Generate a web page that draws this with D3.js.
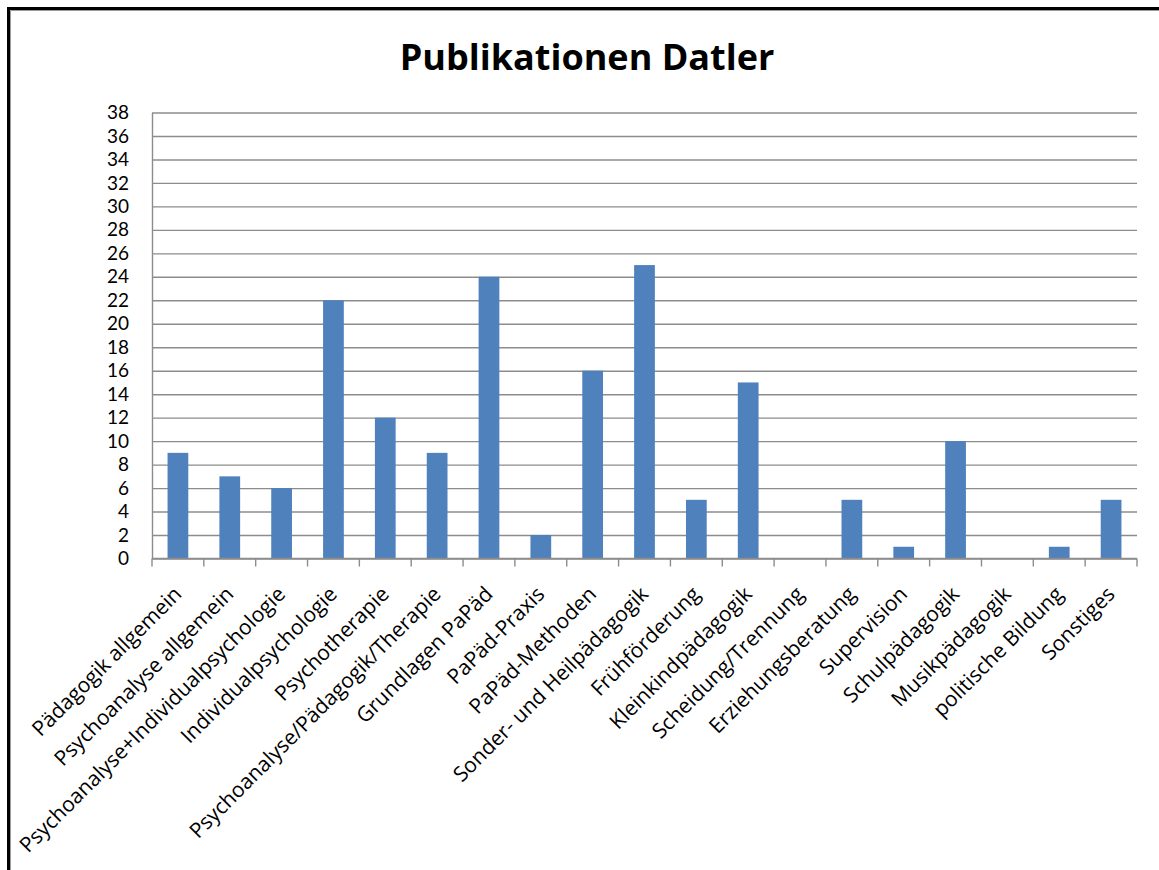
<!DOCTYPE html>
<meta charset="utf-8">
<style>
body { margin: 0; background: #fff; }
text { font-family: "Open Sans", sans-serif; fill: #000; }
</style>
<body>
<script src="https://d3js.org/d3.v7.min.js"></script>
<script>

// data
var categories = ["Pädagogik allgemein", "Psychoanalyse allgemein", "Psychoanalyse+Individualpsychologie",
  "Individualpsychologie", "Psychotherapie", "Psychoanalyse/Pädagogik/Therapie", "Grundlagen PaPäd",
  "PaPäd-Praxis", "PaPäd-Methoden", "Sonder- und Heilpädagogik", "Frühförderung", "Kleinkindpädagogik",
  "Scheidung/Trennung", "Erziehungsberatung", "Supervision", "Schulpädagogik", "Musikpädagogik",
  "politische Bildung", "Sonstiges"];
var publications = [9, 7, 6, 22, 12, 9, 24, 2, 16, 25, 5, 15, 0, 5, 1, 10, 0, 1, 5];
var yTicks = d3.range(0, 39, 2);
var title = "Publikationen Datler";

var W = 1159, H = 870;
var plot = {left: 152, right: 1137, top: 112.5, bottom: 558.5};

var svg = d3.select("body").append("svg")
    .attr("width", W)
    .attr("height", H);

// outer frame (only left and top edges are visible)
svg.append("path")
    .attr("d", "M8.5," + H + "V8.5H" + W)
    .attr("fill", "none").attr("stroke", "#000").attr("stroke-width", 3);
svg.append("path")
    .attr("d", "M10.5," + H + "V10.5H" + W)
    .attr("fill", "none").attr("stroke", "#9a9a9a").attr("stroke-width", 1);

var x = d3.scaleBand()
    .domain(categories)
    .range([plot.left, plot.right])
    .paddingInner(0.6)
    .paddingOuter(0.3);
var xb = d3.scaleBand().domain(categories).range([plot.left, plot.right]);

var y = d3.scaleLinear()
    .domain([0, 38])
    .range([plot.bottom, plot.top]);

// gridlines
svg.append("g")
    .attr("transform", "translate(" + plot.left + ",0)")
    .call(d3.axisLeft(y).tickValues(yTicks).tickSize(-(plot.right - plot.left)).tickFormat(""))
    .call(function(g) { g.select(".domain").remove(); })
    .selectAll("line")
    .attr("stroke", "#8c8c8c")
    .attr("stroke-width", 1.4);

// bars
svg.selectAll(".bar")
    .data(publications)
  .enter().append("rect")
    .attr("class", "bar")
    .attr("x", function(d, i) { return x(categories[i]); })
    .attr("width", x.bandwidth())
    .attr("y", function(d) { return y(d); })
    .attr("height", function(d) { return y(0) - y(d); })
    .attr("fill", "#4f81bd");

// y axis
var yAxis = svg.append("g")
    .attr("transform", "translate(" + plot.left + ",0)")
    .call(d3.axisLeft(y).tickValues(yTicks).tickSize(0).tickPadding(23));
yAxis.select(".domain").attr("stroke", "#8c8c8c").attr("stroke-width", 1.4);
yAxis.selectAll("text")
    .style("font-family", "Lato, sans-serif")
    .style("font-size", "19px")
    .attr("fill", "#000");

// x axis line and ticks between categories
var xAxis = svg.append("g");
xAxis.append("line")
    .attr("x1", plot.left).attr("x2", plot.right)
    .attr("y1", y(0)).attr("y2", y(0))
    .attr("stroke", "#8c8c8c").attr("stroke-width", 1.4);
xAxis.selectAll(".tick")
    .data(categories.concat([null]))
  .enter().append("line")
    .attr("x1", function(d) { return d ? xb(d) : plot.right; })
    .attr("x2", function(d) { return d ? xb(d) : plot.right; })
    .attr("y1", y(0)).attr("y2", y(0) + 8)
    .attr("stroke", "#8c8c8c").attr("stroke-width", 1.4);

// rotated category labels
xAxis.selectAll(".lab")
    .data(categories)
  .enter().append("text")
    .attr("class", "lab")
    .attr("text-anchor", "end")
    .attr("transform", function(d) {
      return "translate(" + (xb(d) + xb.bandwidth() / 2 + 5) + "," + (y(0) + 37) + ") rotate(-45)";
    })
    .style("font-size", "21px")
    .text(function(d) { return d; });

// title
svg.append("text")
    .attr("x", 587).attr("y", 70)
    .attr("text-anchor", "middle")
    .style("font-size", "36px")
    .style("font-weight", "bold")
    .text(title);

</script>
</body>
